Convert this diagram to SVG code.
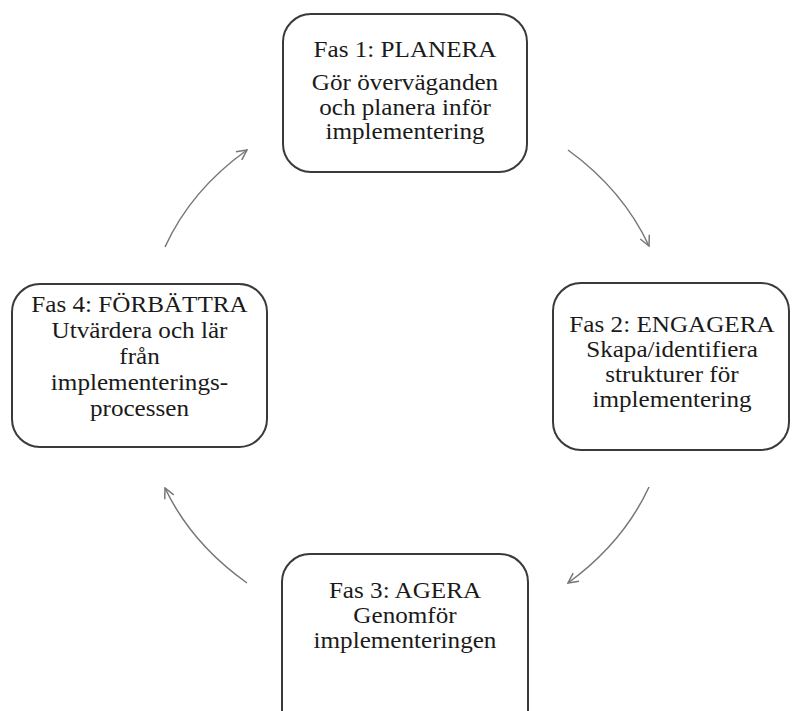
<svg xmlns="http://www.w3.org/2000/svg" width="792" height="711" viewBox="0 0 792 711">
  <style>
    .box { fill: #ffffff; stroke: #3a3a3a; stroke-width: 2; }
    .t { font-family: "Liberation Serif", "Times New Roman", serif; font-size: 23.5px; fill: #1a1a1a; text-anchor: middle; }
    .conn { fill: none; stroke: #777777; stroke-width: 1.5; }
  </style>
  <defs>
    <marker id="arr" viewBox="0 0 12 12" refX="11" refY="6" markerWidth="12" markerHeight="12" markerUnits="userSpaceOnUse" orient="auto">
      <path d="M1,1 L11,6 L1,11" fill="none" stroke="#777777" stroke-width="1.5"/>
    </marker>
  </defs>
  <rect width="792" height="711" fill="#ffffff"/>

  <g id="connectors">
    <path class="conn" d="M568,150 Q623,190 649,246" marker-end="url(#arr)"/>
    <path class="conn" d="M649,487 Q623,543 568,583" marker-end="url(#arr)"/>
    <path class="conn" d="M247,583 Q191,543 165,488" marker-end="url(#arr)"/>
    <path class="conn" d="M165,247 Q191,190 247,150" marker-end="url(#arr)"/>
  </g>

  <g id="fas1">
    <rect class="box" x="283" y="14" width="244" height="158" rx="28"/>
    <g transform="translate(405,0) scale(1.07,1)">
      <text class="t" x="0" y="57">Fas 1: PLANERA</text>
      <text class="t" x="0" y="90">Gör överväganden</text>
      <text class="t" x="0" y="115">och planera inför</text>
      <text class="t" x="0" y="139">implementering</text>
    </g>
  </g>

  <g id="fas2">
    <rect class="box" x="553" y="283" width="236" height="167" rx="28"/>
    <g transform="translate(672,0) scale(1.07,1)">
      <text class="t" x="0" y="332">Fas 2: ENGAGERA</text>
      <text class="t" x="0" y="357">Skapa/identifiera</text>
      <text class="t" x="0" y="382">strukturer för</text>
      <text class="t" x="0" y="407">implementering</text>
    </g>
  </g>

  <g id="fas3">
    <rect class="box" x="282" y="554" width="246" height="190" rx="28"/>
    <g transform="translate(405,0) scale(1.07,1)">
      <text class="t" x="0" y="598">Fas 3: AGERA</text>
      <text class="t" x="0" y="623">Genomför</text>
      <text class="t" x="0" y="648">implementeringen</text>
    </g>
  </g>

  <g id="fas4">
    <rect class="box" x="12" y="284" width="255" height="163" rx="28"/>
    <g transform="translate(139.5,0) scale(1.07,1)">
      <text class="t" x="0" y="312">Fas 4: FÖRBÄTTRA</text>
      <text class="t" x="0" y="338">Utvärdera och lär</text>
      <text class="t" x="0" y="364">från</text>
      <text class="t" x="0" y="390">implementerings-</text>
      <text class="t" x="0" y="416">processen</text>
    </g>
  </g>
</svg>
